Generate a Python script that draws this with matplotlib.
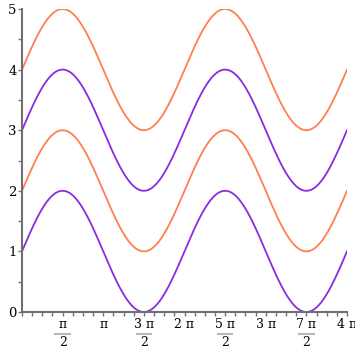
import numpy as np
import matplotlib
matplotlib.use("Agg")
from matplotlib import pyplot as plt
from matplotlib.ticker import MultipleLocator

# vertical offsets of the four sin(x) curves, and their colours
offsets = [1, 2, 3, 4]
colors = ["#8A2BE2", "#FF7F50", "#8A2BE2", "#FF7F50"]

# x tick labels at multiples of pi/2: (numerator, denominator or None)
xtick_labels = [("π", "2"), ("π", None), ("3 π", "2"), ("2 π", None),
                ("5 π", "2"), ("3 π", None), ("7 π", "2"), ("4 π", None)]
ytick_labels = ["0", "1", "2", "3", "4", "5"]

plt.rcParams["font.family"] = "DejaVu Serif"

fig = plt.figure(figsize=(3.55, 3.55), dpi=100)
ax = fig.add_axes([22 / 355, 43 / 355, 325 / 355, 303 / 355])

x = np.linspace(0, 4 * np.pi, 600)
for off, c in zip(offsets, colors):
    ax.plot(x, off + np.sin(x), color=c, lw=1.3)

ax.set_xlim(0, 4 * np.pi)
ax.set_ylim(0, 5)
for s in ["top", "right"]:
    ax.spines[s].set_visible(False)
for s in ["left", "bottom"]:
    ax.spines[s].set_color("#707070")
    ax.spines[s].set_linewidth(1.5)

ax.set_yticks(range(len(ytick_labels)))
ax.set_yticklabels(ytick_labels, fontsize=9.5)
ax.yaxis.set_minor_locator(MultipleLocator(0.5))
ax.tick_params(axis="y", which="both", direction="out", color="#707070", length=3, width=1, pad=1)

ax.xaxis.set_major_locator(MultipleLocator(np.pi / 2))
ax.xaxis.set_minor_locator(MultipleLocator(np.pi / 8))
ax.set_xticklabels([])
ax.tick_params(axis="x", which="both", direction="out", color="#707070", length=3, width=1)

trans = ax.get_xaxis_transform()
for i, (num, den) in enumerate(xtick_labels):
    xv = (i + 1) * np.pi / 2
    ax.text(xv, -0.04, num, transform=trans, ha="center", va="center", fontsize=9)
    if den is not None:
        ax.plot([xv - 0.28, xv + 0.28], [-0.071, -0.071], transform=trans, color="#b8b8b8",
                lw=1.5, clip_on=False)
        ax.text(xv, -0.102, den, transform=trans, ha="center", va="center", fontsize=9)

ax.text(2 * np.pi, -0.155, "x", transform=trans, ha="center", va="center", fontsize=9)

fig.savefig("out.png", dpi=100)
